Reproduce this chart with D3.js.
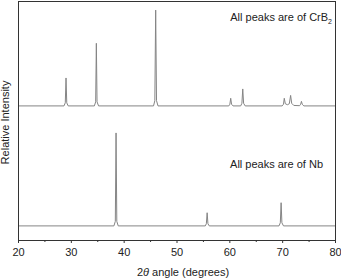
<!DOCTYPE html>
<meta charset="utf-8">
<head>
    <style>
        body { margin: 0; background: #fff; }
        text { font-family: "Liberation Sans", Arial, sans-serif; fill: #222; }
        .trace { fill: none; stroke: #858585; stroke-width: 1; }
    </style>
    <script src="https://d3js.org/d3.v7.min.js"></script>
</head>
<body></body>
<script>

    // top pattern: CrB2, angle (deg) vs intensity (offset, arbitrary units)
    var crb2 = [
        [20, 56.1], [28.7, 56.1], [28.95, 57.4], [29.09, 67.8], [29.23, 57.4], [29.5, 56.1],
        [34.45, 56.1], [34.7, 57.8], [34.83, 82.3], [34.96, 57.8], [35.25, 56.1],
        [45.65, 56.1], [45.9, 58.3], [46.06, 96.2], [46.22, 58.3], [46.5, 56.1],
        [59.9, 56.1], [60.1, 56.8], [60.26, 59.3], [60.42, 56.8], [60.7, 56.1],
        [62.15, 56.1], [62.38, 57.2], [62.54, 63.2], [62.7, 57.2], [63.0, 56.1],
        [70.0, 56.1], [70.25, 56.8], [70.4, 59.3], [70.6, 57.0], [71.0, 56.6],
        [71.35, 57.0], [71.6, 60.5], [71.8, 57.2], [72.2, 56.3],
        [73.3, 56.2], [73.5, 56.8], [73.65, 58.0], [73.8, 56.8], [74.1, 56.1], [80, 56.1]
    ];

    // bottom pattern: Nb
    var nb = [
        [20, 5.9], [38.15, 5.9], [38.42, 7.8], [38.56, 44.8], [38.7, 7.8], [38.97, 5.9],
        [55.45, 5.9], [55.65, 6.8], [55.8, 11.4], [55.95, 6.8], [56.2, 5.9],
        [69.4, 5.9], [69.65, 7.2], [69.8, 15.6], [69.95, 7.2], [70.25, 5.9], [80, 5.9]
    ];

    var majorTicks = [20, 30, 40, 50, 60, 70, 80],
        minorTicks = [25, 35, 45, 55, 65, 75];

    var width = 341, height = 279,
        margin = {left: 18, right: 6, top: 1, bottom: 39};

    var x = d3.scaleLinear().domain([20, 80]).range([margin.left, width - margin.right]),
        y = d3.scaleLinear().domain([0, 100]).range([height - margin.bottom, margin.top]);

    var svg = d3.select("body").append("svg")
        .attr("width", width)
        .attr("height", height);

    var line = d3.line()
        .x(function(d) { return x(d[0]); })
        .y(function(d) { return y(d[1]); });

    svg.selectAll("path.trace")
      .data([crb2, nb])
        .enter().append("path")
        .attr("class", "trace")
        .attr("d", line);

    // minor ticks first, then major axis on top
    svg.append("g")
        .attr("transform", "translate(0," + y(0) + ")")
        .call(d3.axisBottom(x).tickValues(minorTicks).tickSize(2).tickFormat(""))
        .call(function(g) { g.select(".domain").remove(); g.selectAll("line").attr("stroke", "#333"); });

    var xAxis = svg.append("g")
        .attr("transform", "translate(0," + y(0) + ")")
        .call(d3.axisBottom(x).tickValues(majorTicks).tickSize(3).tickSizeOuter(0).tickPadding(5));
    xAxis.select(".domain").remove();
    xAxis.selectAll("line").attr("stroke", "#333");
    xAxis.selectAll("text")
        .style("font-size", "11px")
        .style("font-family", "Liberation Sans, Arial, sans-serif")
        .attr("fill", "#222");

    // frame
    svg.append("rect")
        .attr("x", x(20) + 0.5)
        .attr("y", y(100) + 0.5)
        .attr("width", x(80) - x(20))
        .attr("height", y(0) - y(100))
        .attr("fill", "none")
        .attr("stroke", "#333")
        .attr("stroke-width", 1);

    // labels
    svg.append("text")
        .attr("transform", "translate(9," + ((y(0) + y(100)) / 2 + 2) + ") rotate(-90)")
        .attr("text-anchor", "middle")
        .style("font-size", "11px")
        .text("Relative Intensity");

    var xl = svg.append("text")
        .attr("x", 183)
        .attr("y", 276)
        .attr("text-anchor", "middle")
        .style("font-size", "11px");
    xl.append("tspan").text("2");
    xl.append("tspan").style("font-style", "italic").text("\u03b8");
    xl.append("tspan").text(" angle (degrees)");

    var t1 = svg.append("text")
        .attr("x", 332)
        .attr("y", 20.5)
        .attr("text-anchor", "end")
        .style("font-size", "11px");
    t1.append("tspan").text("All peaks are of CrB");
    t1.append("tspan").attr("dy", 3).style("font-size", "7px").text("2");

    svg.append("text")
        .attr("x", 323)
        .attr("y", 168)
        .attr("text-anchor", "end")
        .style("font-size", "11px")
        .text("All peaks are of Nb");

</script>
